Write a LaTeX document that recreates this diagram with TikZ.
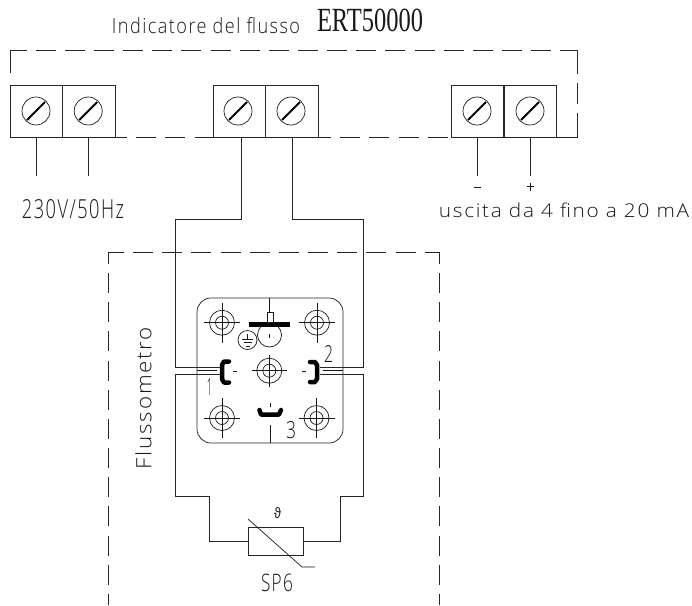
\documentclass[tikz,border=0pt]{standalone}
\usepackage{fontspec}
\usepackage{graphicx}
\setmainfont[LetterSpace=8]{Open Sans Light}
\newfontfamily\serifcad{Liberation Serif}
\newfontfamily\thetafont{Liberation Sans}
\tikzset{
  x=1pt,y=-1pt,
  wire/.style={draw=black!85,line width=0.75pt,line join=miter},
  dashline/.style={draw=black!85,line width=0.75pt,dash pattern=on 20pt off 9.15pt},
  thin line/.style={draw=black!90,line width=0.7pt},
  slot/.style={draw=black,line width=2pt},
  blob/.style={draw=black,line width=4.5pt,line cap=round,line join=round},
  term/.style={draw=black!85,line width=0.75pt,minimum width=52.5pt,minimum height=52pt,inner sep=0pt,outer sep=0pt},
  screw/.style={draw=black!90,line width=0.7pt,circle,minimum size=28pt,inner sep=0pt},
  ring/.style={draw=black!90,line width=0.7pt,circle,inner sep=0pt},
  lab/.style={inner sep=0pt,text=black!90,anchor=center},
}
\newcommand{\termscrew}[3]{%
  \node[term] (#1) at (#2,111) {};
  \node[screw] (#1s) at (#3,111) {};
  \draw[slot] (#1s.center) +(-9,9) -- +(9,-9);
}
% name, x, y, half width, half height of the cross
\newcommand{\bolt}[5]{%
  \node[ring,minimum size=25pt] (#1o) at (#2,#3) {};
  \node[ring,minimum size=13pt] (#1i) at (#2,#3) {};
  \draw[thin line] (#1o.center) +(-#4,0) -- +(#4,0);
  \draw[thin line] (#1o.center) +(0,-#5) -- +(0,#5);
}
\newcommand{\fit}[3]{\resizebox{#1pt}{#2pt}{#3}}
\begin{document}
\begin{tikzpicture}
\useasboundingbox (0,0) rectangle (692,605);
% terminals
\termscrew{ta}{36.25}{36}
\termscrew{tb}{89}{88.2}
\termscrew{tc}{239.25}{238}
\termscrew{td}{292}{291}
\termscrew{te}{477.25}{477}
\termscrew{tf}{530.25}{530}
% indicator dashed frame
\coordinate (f1) at (10,73);
\coordinate (f2) at (10,50);
\coordinate (f3) at (577,50);
\coordinate (f4) at (577,74);
\coordinate (f5) at (577,83);
\coordinate (f6) at (577,104);
\coordinate (f7) at (577,113);
\coordinate (f8) at (577,137);
\draw[wire] (f1) -- (f2);
\draw[dashline,dash phase=3.5pt] (f2) -- (f3);
\draw[wire] (f3) -- (f4);
\draw[wire] (f5) -- (f6);
\draw[wire] (f7) -- (f8) -- (tf.south east);
\draw[dashline,dash phase=8.15pt] (tb.south east) -- (te.south west);
% leads
\coordinate (la) at (36.5,176);
\coordinate (lb) at (88.5,176);
\coordinate (le) at (477.5,176);
\coordinate (lf) at (530.5,176);
\draw[wire] (la |- ta.south) -- (la);
\draw[wire] (lb |- tb.south) -- (lb);
\draw[wire] (le |- te.south) -- (le);
\draw[wire] (lf |- tf.south) -- (lf);
% flowmeter frame
\coordinate (m1) at (108,252);
\coordinate (m2) at (439,252);
\coordinate (m3) at (108,605);
\coordinate (m4) at (439,605);
\draw[dashline,dash phase=4pt] (m1) -- (m2);
\draw[dashline,dash phase=8pt] (m1) -- (m3);
\draw[dashline,dash phase=8pt] (m2) -- (m4);
% connector
\draw[wire,rounded corners=14pt] (197,298) rectangle (343,443);
\bolt{ba}{222}{322.7}{18}{20}
\bolt{bb}{317}{322.7}{18}{20}
\bolt{bc}{222}{418}{18}{20}
\bolt{bd}{316.5}{418}{18}{20}
\bolt{be}{269.3}{370.7}{17.5}{16}
% contact top
\node[ring,minimum size=24pt] (cc) at (269.5,335) {};
\draw[draw=black,line width=5pt] (249,324.5) -- (290,324.5);
\draw[thin line] (267,322) rectangle (273,312);
\draw[thin line] (269.8,298) -- (269.8,312);
\draw[thin line] (269.5,334) -- (269.5,338);
\node[ring,minimum size=19pt] (gnd) at (247.5,340) {};
\draw[thin line] (247.5,334) -- (247.5,339) (242,339) -- (253,339) (243.5,342.7) -- (251.5,342.7) (245.5,346.3) -- (249.5,346.3);
% side contacts
\coordinate (cl) at (221,367.7);
\coordinate (dl) at (221,374);
\coordinate (cr) at (320,367.7);
\coordinate (dr) at (320,374);
\draw[blob] (229,361.5) -- (224,361.5) -- (222,365) -- (222,379) -- (224,382.5) -- (229,382.5);
\draw[blob] (310,362) -- (315,362) -- (317,365) -- (317,379) -- (315,382) -- (310,382);
\draw[blob] (259.5,410) -- (261,414.5) -- (279,414.5) -- (281,410);
\draw[thin line] (233,371) -- (237,371) (302,371) -- (306,371) (270,403) -- (270,407) (270,425) -- (270,443);
\draw[thin line] (197,370.8) -- (217,370.8);
\draw[thin line] (323,370.8) -- (343,370.8);
% wires
\coordinate (wa) at (241,219);
\coordinate (wb) at (292.3,219);
\draw[wire] (wa |- tc.south) -- (wa) -- (175,219) -- (175,367.7) -- (cl);
\draw[wire] (wb |- td.south) -- (wb) -- (363,219) -- (363,367.7) -- (cr);
\node[draw=black!85,line width=0.75pt,minimum width=54.5pt,minimum height=28pt,inner sep=0pt] (rt) at (276,541.5) {};
\draw[wire] (dl) -- (175,374) -- (175,496) -- (209,496) -- (209,541.5) -- (rt.west);
\draw[wire] (dr) -- (363,374) -- (363,496) -- (340,496) -- (340,541.5) -- (rt.east);
\draw[thin line] (248,519) -- (302,567) -- (315,567);
% labels
\node[lab] (t1) at (206,25.2) {\fit{188}{16}{Indicatore del flusso}};
\node[lab] (t2) at (370,20.8) {\fit{106}{22.5}{\serifcad ERT50000}};
\node[lab] (t3) at (73,209) {\fit{102}{19}{230V/50Hz}};
\node[lab] (t4) at (564,210) {\fit{250}{14.5}{uscita da 4 fino a 20 mA}};
\draw[thin line] (473.5,187) -- (480.5,187);
\draw[thin line] (527,186.5) -- (534,186.5) (530.5,182.5) -- (530.5,190.5);
\node[lab] (n1) at (209.5,386.5) {\fit{5.5}{17}{1}};
\node[lab] (n2) at (328.5,353.5) {\fit{9}{17}{2}};
\node[lab] (n3) at (291,430.5) {\fit{10}{17}{3}};
\node[lab,rotate=90] (fl) at (143.5,398) {\fit{142}{16}{Flussometro}};
\node[lab] (th) at (277.5,513.5) {\fit{7}{11}{\thetafont ϑ}};
\node[lab] (sp) at (277,583) {\fit{32}{17.5}{SP6}};
\end{tikzpicture}
\end{document}
